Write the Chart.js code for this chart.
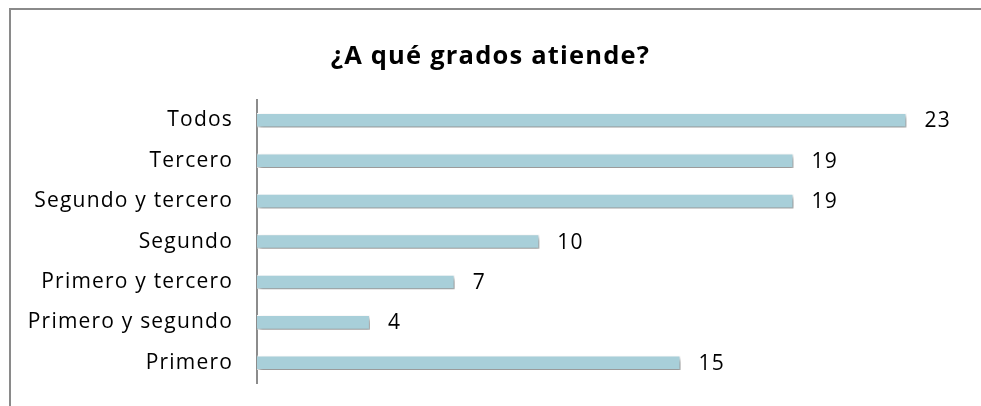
<!DOCTYPE html>
<html>
<head>
<meta charset="utf-8">
<script src="https://cdn.jsdelivr.net/npm/chart.js@4/dist/chart.umd.min.js"></script>
<style>
  html,body{margin:0;padding:0;background:#fff;}
  #wrap{position:relative;width:981px;height:406px;overflow:hidden;}
  #frame{position:absolute;left:9px;top:8px;width:980px;height:410px;border-top:2px solid #8a8a8a;border-left:2px solid #8a8a8a;box-sizing:border-box;}
  canvas{position:absolute;left:0;top:0;}
</style>
</head>
<body>
<div id="wrap">
  <div id="frame"></div>
  <canvas id="c" width="981" height="406"></canvas>
</div>
<script>
const titleText = '¿A qué grados atiende?';
const categories = ['Todos', 'Tercero', 'Segundo y tercero', 'Segundo', 'Primero y tercero', 'Primero y segundo', 'Primero'];
const values = [23, 19, 19, 10, 7, 4, 15];

const FONT = '"Open Sans", Lato, sans-serif';
const SPACING = '1.2px';

const spacingPlugin = {
  id: 'spacing',
  beforeLayout(chart) { chart.ctx.letterSpacing = SPACING; },
  beforeDraw(chart) { chart.ctx.letterSpacing = SPACING; }
};

const shadowPlugin = {
  id: 'shadow',
  beforeDatasetsDraw(chart) {
    const ctx = chart.ctx;
    ctx.save();
    ctx.shadowColor = 'rgba(0,0,0,0.45)';
    ctx.shadowBlur = 4;
    ctx.shadowOffsetX = 2;
    ctx.shadowOffsetY = 3;
  },
  afterDatasetsDraw(chart) {
    chart.ctx.restore();
  }
};

const labelPlugin = {
  id: 'valueLabels',
  afterDatasetsDraw(chart) {
    const ctx = chart.ctx;
    const meta = chart.getDatasetMeta(0);
    ctx.save();
    ctx.letterSpacing = SPACING;
    ctx.font = '21px ' + FONT;
    ctx.fillStyle = '#000';
    ctx.textAlign = 'left';
    ctx.textBaseline = 'middle';
    meta.data.forEach((bar, i) => {
      ctx.fillText(String(values[i]), bar.x + 18, bar.y + 1);
    });
    ctx.restore();
  }
};

new Chart(document.getElementById('c'), {
  type: 'bar',
  data: {
    labels: categories,
    datasets: [{
      data: values,
      backgroundColor: '#a8cfd9',
      borderColor: 'rgba(255,255,255,0.9)',
      borderWidth: 1,
      categoryPercentage: 1,
      barPercentage: 0.36
    }]
  },
  options: {
    indexAxis: 'y',
    responsive: false,
    animation: false,
    layout: { padding: { left: 0, right: 0, top: 0, bottom: 23 } },
    plugins: {
      legend: { display: false },
      tooltip: { enabled: false },
      title: {
        display: true,
        text: titleText,
        color: '#000',
        font: { family: FONT, size: 25.5, weight: 'bold', lineHeight: 1.2 },
        padding: { top: 41, bottom: 28.5 }
      }
    },
    scales: {
      x: {
        min: 0, max: 25.64,
        display: false,
        grid: { display: false }
      },
      y: {
        afterFit(scale) { scale.width = 257; },
        grid: { display: true, drawOnChartArea: false, drawTicks: true, tickLength: 24, color: 'rgba(0,0,0,0)', tickColor: 'rgba(0,0,0,0)' },
        border: { display: true, color: '#8c8c8c', width: 2 },
        ticks: { color: '#000', padding: 0, font: { family: FONT, size: 21 } }
      }
    }
  },
  plugins: [spacingPlugin, shadowPlugin, labelPlugin]
});
</script>
</body>
</html>
